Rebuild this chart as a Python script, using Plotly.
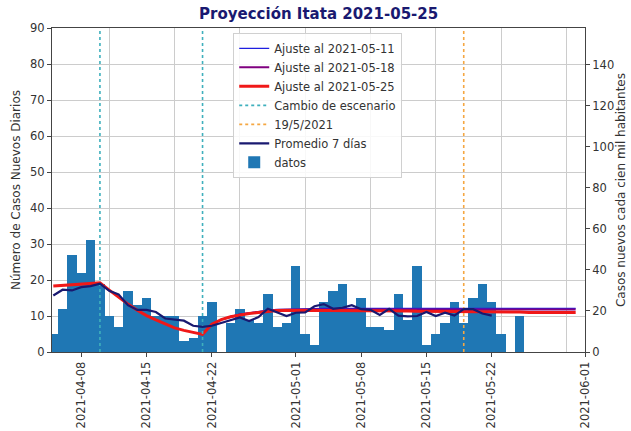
import plotly.graph_objects as go
import pandas as pd

# Casos diarios desde 2021-04-05
fecha_inicio = '2021-04-05'
casos = [5, 12, 27, 22, 31, 19, 10, 7, 17, 13, 15, 10, 10, 10, 3, 4, 10, 14, 0, 8,
         12, 9, 8, 16, 7, 8, 24, 5, 2, 14, 17, 19, 12, 15, 7, 7, 6, 16, 9, 24,
         2, 5, 8, 14, 8, 15, 19, 14, 5, 0, 10]

# Promedio movil (centrado), desde 2021-04-05
promedio_7d = [15.7, 17.3, 17.1, 18.0, 18.3, 19.0, 17.0, 16.0, 13.0, 11.7,
               11.7, 11.1, 9.3, 8.9, 8.7, 7.3, 7.0, 7.3, 8.1, 8.7,
               9.6, 8.6, 9.7, 12.0, 11.0, 10.0, 10.9, 11.0, 12.7, 13.3,
               12.0, 12.3, 13.0, 11.9, 11.7, 10.3, 12.0, 10.1, 9.9, 10.0,
               11.1, 10.0, 10.9, 10.1, 11.9, 11.9, 10.7, 10.1]

# Ajustes del modelo (2021-04-05 .. 2021-05-31)
ajuste_0525 = [18.3, 18.5, 18.7, 18.9, 19.1, 19.2, 17.2, 15.2, 13.3, 11.6,
               10.1, 8.9, 7.7, 6.7, 6.0, 5.4, 4.9, 7.7, 9.0, 9.8,
               10.3, 10.7, 11.0, 11.3, 11.5, 11.6, 11.6, 11.6, 11.6, 11.6,
               11.6, 11.5, 11.5, 11.5, 11.5, 11.4, 11.4, 11.4, 11.4, 11.3,
               11.3, 11.3, 11.3, 11.2, 11.2, 11.2, 11.2, 11.1, 11.1, 11.1,
               11.1, 11.0, 11.0, 11.0, 11.0, 11.0, 11.0]
# los ajustes anteriores coinciden con el ultimo antes del 2021-04-23
inicio_ajustes_previos = '2021-04-23'
ajuste_0518 = [9.0, 9.8, 10.4, 10.8, 11.1, 11.4, 11.6, 11.7, 11.8, 11.8,
               11.8, 11.8, 11.8, 11.8, 11.8, 11.8, 11.8, 11.8, 11.8, 11.8,
               11.8, 11.8, 11.8, 11.8, 11.8, 11.8, 11.8, 11.8, 11.8, 11.8,
               11.8, 11.8, 11.8, 11.8, 11.8, 11.8, 11.8, 11.8, 11.8]
ajuste_0511 = [9.0, 9.9, 10.5, 10.9, 11.3, 11.6, 11.8, 11.9, 12.0, 12.1,
               12.1, 12.1, 12.1, 12.1, 12.1, 12.1, 12.1, 12.1, 12.1, 12.1,
               12.1, 12.1, 12.1, 12.1, 12.1, 12.1, 12.1, 12.1, 12.1, 12.1,
               12.1, 12.1, 12.1, 12.1, 12.1, 12.1, 12.1, 12.1, 12.1]

cambios_escenario = ['2021-04-10', '2021-04-21']
fecha_ref = '2021-05-19'
habitantes = 56960

ticks_x = ['2021-04-08', '2021-04-15', '2021-04-22', '2021-05-01',
           '2021-05-08', '2021-05-15', '2021-05-22', '2021-06-01']
domingos = pd.date_range('2021-04-11', '2021-05-30', freq='7D')

fechas = pd.date_range(fecha_inicio, periods=len(casos), freq='D')
fechas_prom = pd.date_range(fecha_inicio, periods=len(promedio_7d), freq='D')
fechas_aj = pd.date_range(fecha_inicio, periods=len(ajuste_0525), freq='D')
fechas_prev = pd.date_range(inicio_ajustes_previos, periods=len(ajuste_0511), freq='D')

ymax = 90
fig = go.Figure()

fig.add_trace(go.Scatter(x=fechas_prev, y=ajuste_0511, mode='lines',
                         name='Ajuste al 2021-05-11', line=dict(color='#1f1fe0', width=1.3)))
fig.add_trace(go.Scatter(x=fechas_prev, y=ajuste_0518, mode='lines',
                         name='Ajuste al 2021-05-18', line=dict(color='#800080', width=2)))
fig.add_trace(go.Scatter(x=fechas_aj, y=ajuste_0525, mode='lines',
                         name='Ajuste al 2021-05-25', line=dict(color='#f01818', width=3)))

# lineas verticales
xs, ys = [], []
for f in cambios_escenario:
    xs += [f, f, None]
    ys += [0, ymax, None]
fig.add_trace(go.Scatter(x=xs, y=ys, mode='lines', name='Cambio de escenario',
                         line=dict(color='#3fb0bd', width=1.6, dash='dot')))
fig.add_trace(go.Scatter(x=[fecha_ref, fecha_ref], y=[0, ymax], mode='lines', name='19/5/2021',
                         line=dict(color='#f5a742', width=1.6, dash='dot')))

fig.add_trace(go.Scatter(x=fechas_prom, y=promedio_7d, mode='lines',
                         name='Promedio 7 días', line=dict(color='#191970', width=2.2)))
fig.add_trace(go.Bar(x=fechas, y=casos, name='datos', marker_color='#1f77b4',
                     marker_line_width=0, width=86400000))

# eje derecho (casos por cien mil)
fig.add_trace(go.Scatter(x=[fechas[0]], y=[0], yaxis='y2', mode='markers',
                         marker_opacity=0, showlegend=False, hoverinfo='skip'))

eje = dict(showline=True, linecolor='#444', linewidth=1, ticks='outside', ticklen=4,
           tickcolor='#444', tickfont=dict(size=11.5, color='#333'), automargin=False)

fig.update_layout(
    width=631, height=431,
    margin=dict(l=52, r=46, t=28, b=79),
    paper_bgcolor='white', plot_bgcolor='white',
    font=dict(family='DejaVu Sans', color='#333'),
    title=dict(text='<b>Proyección Itata 2021-05-25</b>', x=0.505, xanchor='center',
               y=0.967, yanchor='middle', font=dict(size=15, color='#191970')),
    bargap=0,
    showlegend=True,
    legend=dict(x=0.34, y=0.985, xanchor='left', yanchor='top', font=dict(size=11.5),
                bgcolor='rgba(255,255,255,0.85)', bordercolor='#d0d0d0', borderwidth=1,
                itemwidth=30, tracegroupgap=0),
    xaxis=dict(eje, type='date', range=['2021-04-04 20:40', '2021-06-01'],
               tickmode='array', tickvals=ticks_x, tickformat='%Y-%m-%d', tickangle=-90,
               mirror=True, showgrid=False,
               minor=dict(tickmode='array', tickvals=list(domingos), showgrid=True,
                          gridcolor='#cccccc', gridwidth=1, ticklen=0)),
    yaxis=dict(eje, range=[0, ymax], dtick=10, showgrid=True, gridcolor='#cccccc',
               zeroline=False,
               title=dict(text='Número de Casos Nuevos Diarios', font=dict(size=12), standoff=6)),
    yaxis2=dict(eje, overlaying='y', side='right', range=[0, ymax * 1e5 / habitantes],
                tickmode='array', tickvals=[0, 20, 40, 60, 80, 100, 120, 140],
                showgrid=False, zeroline=False,
                title=dict(text='Casos nuevos cada cien mil habitantes', font=dict(size=12), standoff=3)),
)

fig.write_html("out.html", config={'displayModeBar': False},
               post_script="document.body.style.margin='0';")
